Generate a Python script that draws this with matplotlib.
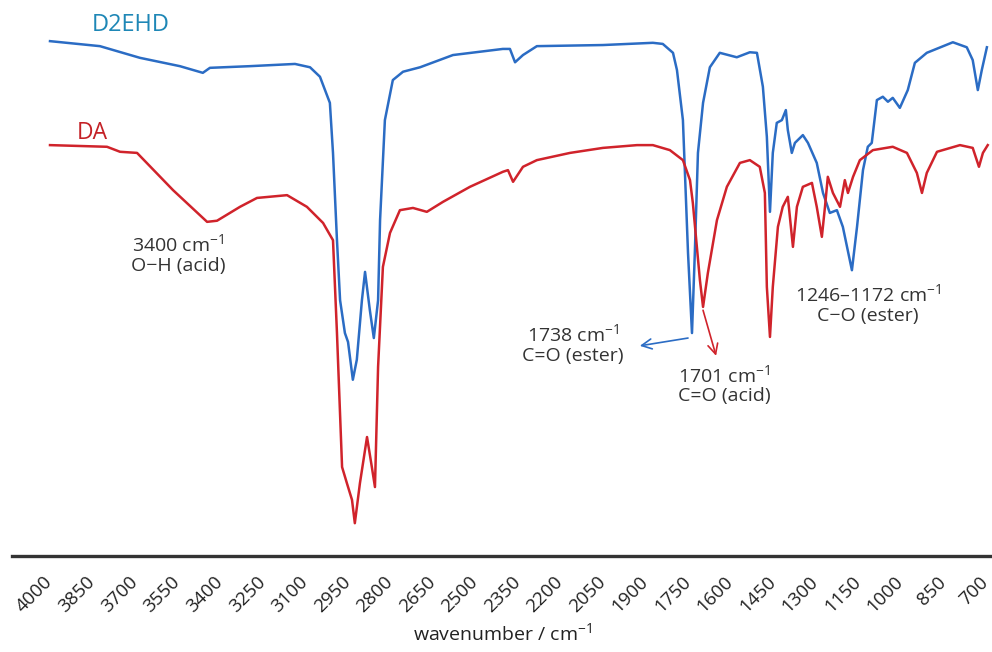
import numpy as np
import matplotlib
matplotlib.use("Agg")
import matplotlib.pyplot as plt
import matplotlib.transforms as mtransforms

plt.rcParams["font.family"] = ["Open Sans", "DejaVu Sans"]
plt.rcParams["mathtext.fontset"] = "custom"
plt.rcParams["mathtext.rm"] = "Open Sans"
plt.rcParams["mathtext.it"] = "Open Sans"

# D2EHD spectrum (wavenumber, transmittance a.u.)
d2ehd_wn = [4000, 3824, 3683, 3542, 3461, 3436, 3295, 3136, 3083, 3048, 3013, 3002,
            2988, 2977, 2960, 2949, 2932, 2918, 2900, 2889, 2872, 2858, 2843, 2836,
            2819, 2791, 2755, 2695, 2579, 2403, 2378, 2360, 2332, 2283, 2050, 1874,
            1839, 1803, 1789, 1768, 1750, 1736, 1726, 1715, 1697, 1673, 1638, 1578,
            1532, 1507, 1486, 1472, 1461, 1451, 1437, 1419, 1405, 1398, 1384, 1373,
            1363, 1345, 1327, 1296, 1274, 1250, 1225, 1204, 1172, 1154, 1133, 1116,
            1102, 1084, 1063, 1045, 1028, 1003, 975, 950, 908, 816, 767, 746, 728,
            714, 696]
d2ehd_t = [92.6, 91.7, 89.6, 88.1, 86.9, 87.8, 88.1, 88.5, 87.9, 86.2, 81.5, 72.5,
           56.8, 46.0, 40.1, 38.5, 31.7, 35.3, 46.0, 51.1, 44.2, 39.2, 46.0, 60.4,
           78.4, 85.6, 87.1, 87.9, 90.1, 91.2, 91.2, 88.8, 90.1, 91.7, 91.9, 92.3,
           92.1, 90.5, 87.4, 78.4, 54.5, 40.1, 54.5, 72.5, 81.5, 87.9, 90.5, 89.7,
           90.6, 90.5, 84.4, 75.4, 61.9, 72.5, 77.9, 78.4, 80.2, 76.6, 72.5, 74.3,
           74.8, 75.7, 74.3, 70.7, 65.3, 61.7, 62.2, 59.2, 51.4, 59.2, 69.4, 73.6,
           74.3, 82.0, 82.6, 81.7, 82.4, 80.6, 83.8, 88.7, 90.5, 92.4, 91.5, 89.2,
           83.8, 87.4, 91.5]

# DA spectrum
da_wn = [4000, 3799, 3753, 3693, 3566, 3446, 3411, 3330, 3270, 3164, 3094, 3037,
         3002, 2988, 2970, 2953, 2935, 2925, 2907, 2882, 2865, 2854, 2843, 2826,
         2801, 2766, 2720, 2671, 2614, 2519, 2403, 2385, 2367, 2332, 2283, 2166,
         2050, 1930, 1874, 1814, 1768, 1743, 1733, 1708, 1697, 1680, 1648, 1613,
         1567, 1532, 1497, 1479, 1472, 1461, 1451, 1433, 1416, 1398, 1380, 1366,
         1345, 1313, 1296, 1278, 1267, 1257, 1239, 1214, 1197, 1186, 1168, 1144,
         1098, 1028, 978, 943, 925, 908, 872, 791, 746, 724, 710, 693]
da_t = [73.9, 73.6, 72.7, 72.5, 65.8, 60.1, 60.3, 62.8, 64.4, 64.9, 62.8, 59.9,
        56.8, 40.1, 16.0, 13.1, 10.1, 5.9, 13.1, 21.4, 16.0, 12.4, 34.0, 52.0,
        58.1, 62.2, 62.6, 61.9, 63.7, 66.4, 69.1, 69.4, 67.3, 70.0, 71.2, 72.5,
        73.4, 73.9, 73.9, 73.0, 71.2, 67.6, 63.5, 49.6, 44.8, 50.9, 60.4, 66.4,
        70.7, 71.2, 70.0, 65.3, 48.4, 39.4, 48.4, 59.2, 62.8, 64.6, 55.6, 62.8,
        66.4, 67.1, 62.8, 57.4, 62.8, 68.2, 65.3, 62.8, 67.6, 65.3, 68.2, 71.2,
        73.0, 73.6, 72.5, 68.9, 65.3, 68.9, 72.7, 73.9, 73.4, 70.0, 72.5, 73.9]

ticks = list(range(4000, 699, -150))

fig = plt.figure(figsize=(9.92, 6.52), dpi=100)
ax = fig.add_axes([12 / 992, 96 / 652, 980 / 992, 556 / 652])

ax.plot(d2ehd_wn, d2ehd_t, color="#2b6cc4", lw=1.8, solid_joinstyle="round")
ax.plot(da_wn, da_t, color="#d0232b", lw=1.8, solid_joinstyle="round")

ax.set_xlim(4134, 678)
ax.set_ylim(0, 100)
ax.set_yticks([])
ax.set_xticks(ticks)
ax.set_xticklabels([str(t) for t in ticks], rotation=45, ha="right", va="top",
                   rotation_mode="anchor", fontsize=13.5, color="#222222")
ax.tick_params(axis="x", length=0, pad=13)
shift = mtransforms.ScaledTranslation(-0.065, 0.01, fig.dpi_scale_trans)
for lab in ax.get_xticklabels():
    lab.set_transform(lab.get_transform() + shift)
for s in ["top", "left", "right"]:
    ax.spines[s].set_visible(False)
ax.spines["bottom"].set_linewidth(2.4)
ax.spines["bottom"].set_color("#333333")
ax.set_xlabel("wavenumber / cm$^{-1}$", fontsize=14, color="#222222", labelpad=4)

ax.text(3714, 95.5, "D2EHD", color="#1e87b6", fontsize=17, ha="center", va="center")
ax.text(3852, 76.1, "DA", color="#c42126", fontsize=16.5, ha="center", va="center")

txt = dict(fontsize=14, color="#333333", ha="center", va="center",
           multialignment="center", linespacing=1.1)
ax.text(3549, 54.3, "3400 cm$^{-1}$\nO\u2212H (acid)", **txt)
ax.text(2156, 38.1, "1738 cm$^{-1}$\nC=O (ester)", **txt)
ax.text(1623, 30.8, "1701 cm$^{-1}$\nC=O (acid)", **txt)
ax.text(1116, 45.3, "1246\u20131172 cm$^{-1}$\nC\u2212O (ester)", **txt)

ax.annotate("", xy=(1920, 37.8), xytext=(1750, 39.2),
            arrowprops=dict(arrowstyle="->", color="#2b6cc4", lw=1.2,
                            mutation_scale=18, shrinkA=0, shrinkB=0))
ax.annotate("", xy=(1651, 36.0), xytext=(1697, 44.2),
            arrowprops=dict(arrowstyle="->", color="#d0232b", lw=1.2,
                            mutation_scale=18, shrinkA=0, shrinkB=0))

fig.savefig("out.png", dpi=100)
